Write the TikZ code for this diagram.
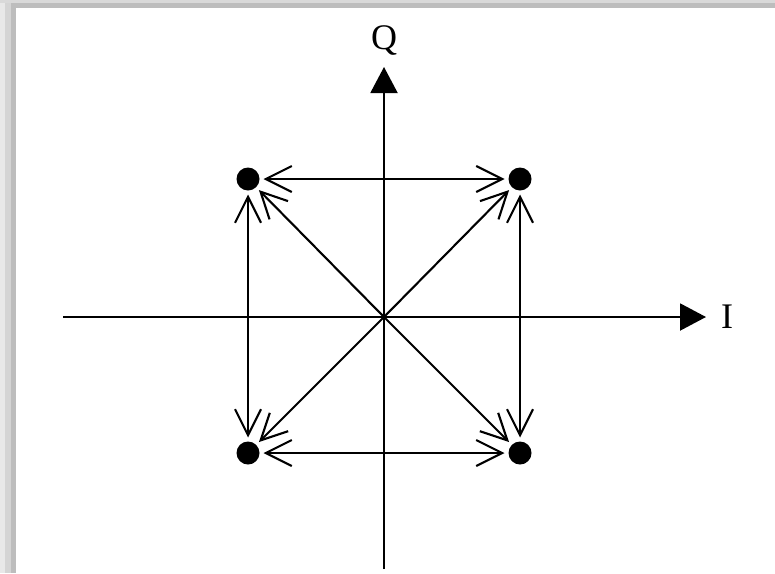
\documentclass[tikz,border=0pt]{standalone}
\usepackage{fontspec}
\setmainfont{Liberation Serif}
\usetikzlibrary{arrows.meta}
\begin{document}
\begin{tikzpicture}[x=1pt,y=-1pt,
  dotnode/.style={circle,fill=black,minimum size=23pt,inner sep=0pt,outer sep=4pt},
  axisline/.style={line width=2pt,-{Triangle[length=26pt,width=27pt]}},
  barb/.style={line width=2.1pt,{Straight Barb[length=26pt,width=26pt]}-{Straight Barb[length=26pt,width=26pt]}},
  barbone/.style={line width=2.1pt,-{Straight Barb[length=26pt,width=26pt]}},
  lbl/.style={font=\fontsize{36}{40}\selectfont,inner sep=0pt}]
\useasboundingbox (0,0) rectangle (775,573);
% frame shadow
\fill[white] (0,0) rectangle (775,573);
\fill[black!9] (0,0) rectangle (5,573);
\fill[black!17] (5,3) rectangle (11,573);
\fill[black!26] (11,8) rectangle (16,573);
\fill[black!15] (0,0) rectangle (775,3);
\fill[black!26] (11,3) rectangle (775,8);
% axes
\coordinate (o) at (384,317);
\coordinate (ileft) at (63,317);
\coordinate (iright) at (706,317);
\coordinate (qbot) at (384,569);
\coordinate (qtop) at (384,67);
\draw[axisline] (ileft) -- (iright);
\draw[axisline] (qbot) -- (qtop);
\node[lbl] (ilab) at (727,317) {I};
\node[lbl] (qlab) at (384,40) {Q};
% dots
\node[dotnode] (tl) at (248,179) {};
\node[dotnode] (tr) at (520,179) {};
\node[dotnode] (bl) at (248,453) {};
\node[dotnode] (br) at (520,453) {};
% connectors
\draw[barb] (tl) -- (tr);
\draw[barb] (bl) -- (br);
\draw[barb] (tl) -- (bl);
\draw[barb] (tr) -- (br);
\draw[barbone] (o) -- (tl);
\draw[barbone] (o) -- (tr);
\draw[barbone] (o) -- (bl);
\draw[barbone] (o) -- (br);
\end{tikzpicture}
\end{document}
